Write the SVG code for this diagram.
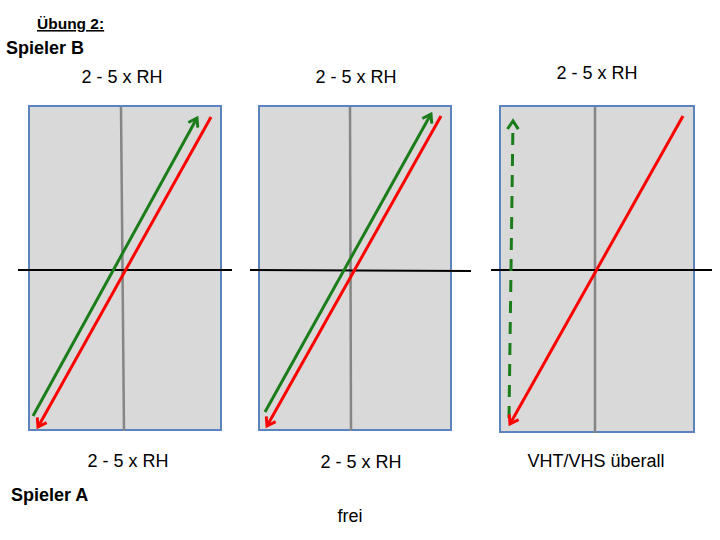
<svg xmlns="http://www.w3.org/2000/svg" width="720" height="540" viewBox="0 0 720 540">
<defs>
<style>
.court{fill:#d9d9d9;stroke:#5b84bf;stroke-width:2}
.mid{stroke:#858585;stroke-width:2.5}
.net{stroke:#000;stroke-width:2}
.g{stroke:#1a7d1a;stroke-width:3;fill:none}
.r{stroke:#f00;stroke-width:3;fill:none}
.t{font-family:"Liberation Sans",Arial,sans-serif;font-size:18px;fill:#000}
.b{font-family:"Liberation Sans",Arial,sans-serif;font-weight:bold;fill:#000}
</style>
<marker id="ag" viewBox="0 0 10 10" refX="7" refY="5" markerWidth="4.5" markerHeight="4.5" orient="auto" markerUnits="strokeWidth">
<path d="M1,1 L7,5 L1,9" fill="none" stroke="#1a7d1a" stroke-width="2.2"/>
</marker>
<marker id="ar" viewBox="0 0 10 10" refX="7" refY="5" markerWidth="4.5" markerHeight="4.5" orient="auto" markerUnits="strokeWidth">
<path d="M1,1 L7,5 L1,9" fill="none" stroke="#f00" stroke-width="2.2"/>
</marker>
</defs>
<rect width="720" height="540" fill="#fff"/>
<g id="court1">
<rect class="court" x="29" y="106" width="192" height="324"/>
<line class="mid" x1="121" y1="107" x2="124" y2="431"/>
<line class="net" x1="18" y1="270" x2="232" y2="270"/>
</g>
<g id="court2">
<rect class="court" x="259" y="106" width="192" height="324"/>
<line class="mid" x1="350" y1="107" x2="351" y2="431"/>
<line class="net" x1="250" y1="270" x2="471" y2="271"/>
</g>
<g id="court3">
<rect class="court" x="500" y="106" width="194" height="326"/>
<line class="mid" x1="595" y1="107" x2="595" y2="433"/>
<line class="net" x1="491" y1="270" x2="712" y2="270"/>
</g>
<g id="connectors">
<line class="g" x1="33" y1="416" x2="197" y2="118" marker-end="url(#ag)"/>
<line class="r" x1="211" y1="117" x2="38" y2="427" marker-end="url(#ar)"/>
<line class="g" x1="265" y1="412" x2="431" y2="114" marker-end="url(#ag)"/>
<line class="r" x1="441" y1="116" x2="267" y2="426" marker-end="url(#ar)"/>
<line class="g" x1="509" y1="418" x2="513" y2="121" stroke-dasharray="12,9" marker-end="url(#ag)"/>
<line class="r" x1="683" y1="116" x2="510" y2="424" marker-end="url(#ar)"/>
</g>
<g id="labels">
<text class="b" x="37" y="29" font-size="15.5" text-decoration="underline">Übung 2:</text>
<text class="b" x="6" y="54" font-size="18">Spieler B</text>
<text class="t" x="122" y="83" text-anchor="middle">2 - 5 x RH</text>
<text class="t" x="356" y="83" text-anchor="middle">2 - 5 x RH</text>
<text class="t" x="597" y="79" text-anchor="middle">2 - 5 x RH</text>
<text class="t" x="128" y="467" text-anchor="middle">2 - 5 x RH</text>
<text class="t" x="361" y="468" text-anchor="middle">2 - 5 x RH</text>
<text class="t" x="596" y="467" text-anchor="middle">VHT/VHS überall</text>
<text class="b" x="11" y="501" font-size="18">Spieler A</text>
<text class="t" x="350" y="522" text-anchor="middle" font-size="16">frei</text>
</g>
</svg>
